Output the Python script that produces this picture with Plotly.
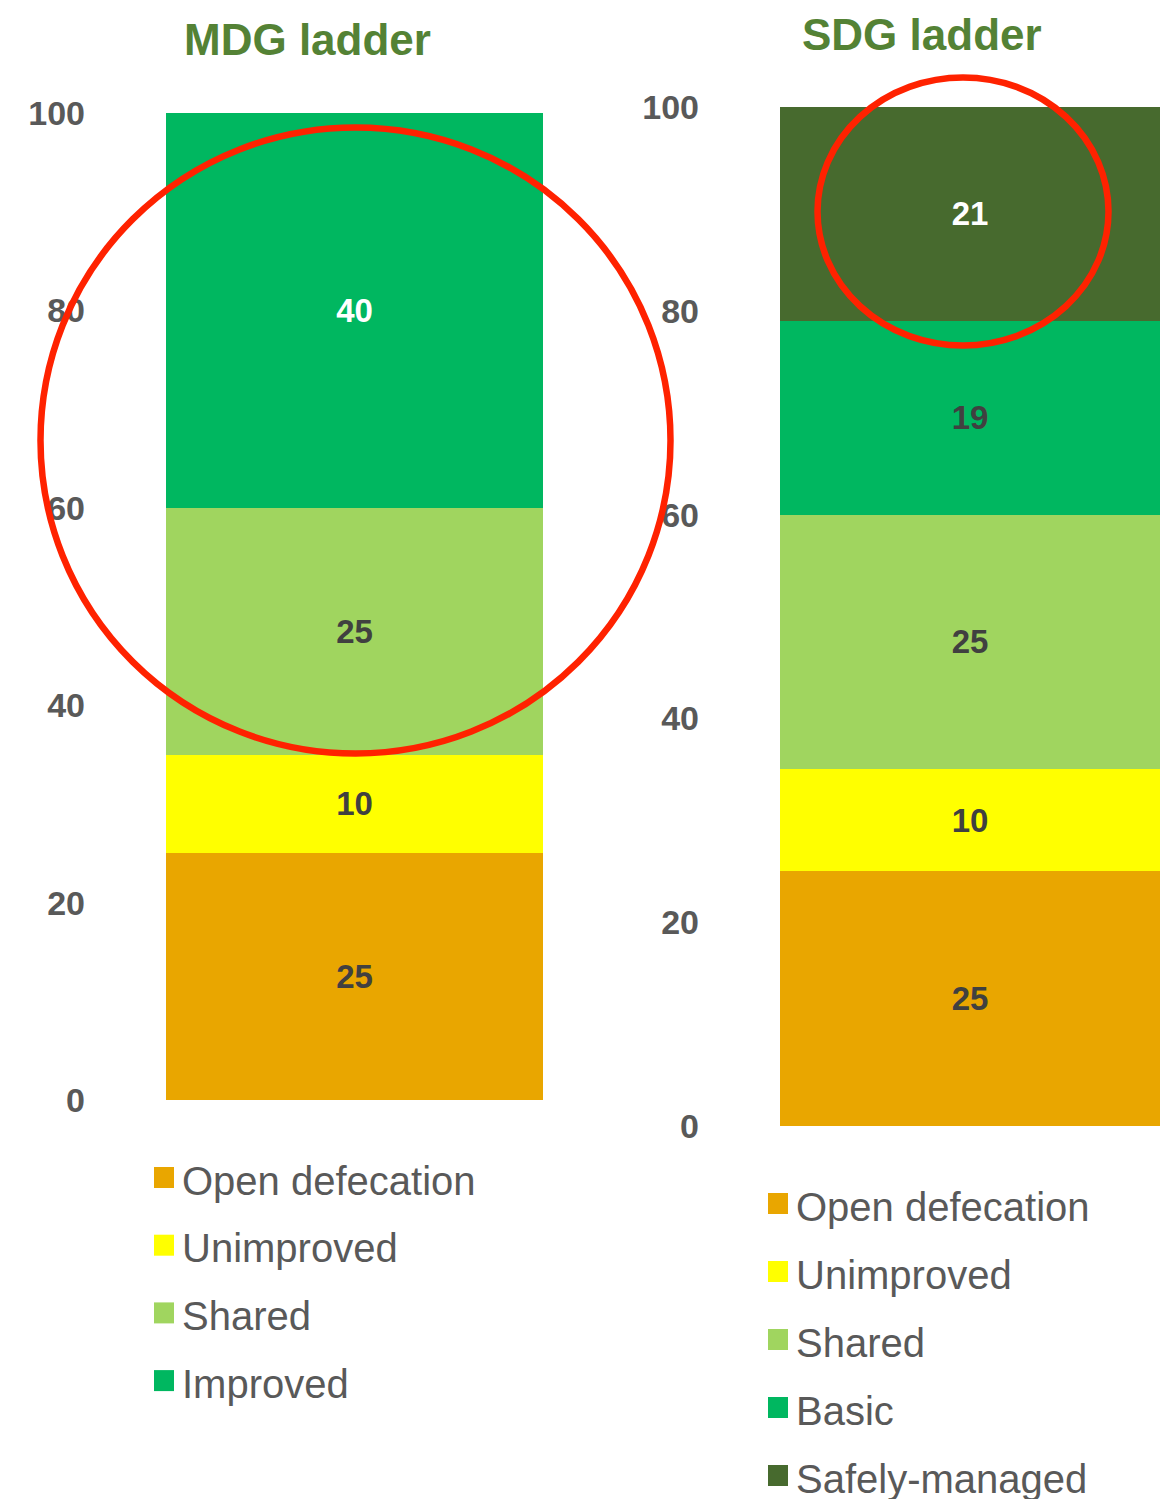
import plotly.graph_objects as go

W, H = 1160, 1499

# Sanitation ladder shares (percent), stacked bottom-up
mdg_categories = ["Open defecation", "Unimproved", "Shared", "Improved"]
mdg_values = [25, 10, 25, 40]
sdg_categories = ["Open defecation", "Unimproved", "Shared", "Basic", "Safely-managed"]
sdg_values = [25, 10, 25, 19, 21]
y_ticks = [0, 20, 40, 60, 80, 100]

colors = {
    "Open defecation": "#E9A600",
    "Unimproved": "#FFFF00",
    "Shared": "#A0D55F",
    "Improved": "#00B760",
    "Basic": "#00B760",
    "Safely-managed": "#476A2E",
}
label_colors = {
    "Open defecation": "#404040",
    "Unimproved": "#404040",
    "Shared": "#404040",
    "Improved": "#FFFFFF",
    "Basic": "#404040",
    "Safely-managed": "#FFFFFF",
}

FONT = "Liberation Sans, Arial, sans-serif"
GREY = "#595959"
TITLE_GREEN = "#548235"


def px(x):
    return x / W


def py(y):
    return 1 - y / H


fig = go.Figure()

for cats, vals, xa, ya in [
    (mdg_categories, mdg_values, "x", "y"),
    (sdg_categories, sdg_values, "x2", "y2"),
]:
    for cat, val in zip(cats, vals):
        fig.add_trace(go.Bar(
            x=[0], y=[val], width=[1],
            name=cat,
            marker=dict(color=colors[cat], line=dict(width=0)),
            text=[val], texttemplate="%{text}",
            textposition="inside", insidetextanchor="middle", textangle=0,
            textfont=dict(family=FONT, size=33, color=label_colors[cat], weight="bold"),
            xaxis=xa, yaxis=ya, showlegend=False, hoverinfo="skip",
        ))

axis_common = dict(showgrid=False, zeroline=False, showline=False, automargin=False)
yaxis_common = dict(
    axis_common, range=[0, 100], tickvals=y_ticks, ticks="",
    tickfont=dict(family=FONT, size=34, color=GREY, weight="bold"),
    ticklabelstandoff=80,
)

fig.update_layout(
    width=W, height=H,
    margin=dict(l=0, r=0, t=0, b=0, autoexpand=False),
    paper_bgcolor="white", plot_bgcolor="white",
    barmode="stack",
    xaxis=dict(axis_common, domain=[px(166), px(543)], range=[-0.5, 0.5],
               showticklabels=False, anchor="y"),
    yaxis=dict(yaxis_common, domain=[py(1100), py(113)], anchor="x"),
    xaxis2=dict(axis_common, domain=[px(780), 1.0], range=[-0.5, 0.5],
                showticklabels=False, anchor="y2"),
    yaxis2=dict(yaxis_common, domain=[py(1126), py(107)], anchor="x2"),
)

# Panel titles
for text, cx, cy in [("MDG ladder", 307, 40), ("SDG ladder", 922, 35)]:
    fig.add_annotation(
        text=text, xref="paper", yref="paper", x=px(cx), y=py(cy),
        xanchor="center", yanchor="middle", showarrow=False,
        font=dict(family=FONT, size=44, color=TITLE_GREEN, weight="bold"),
    )

# Legends: coloured square + label, one row per category
shapes = []
for cats, x0, y0, step in [
    (mdg_categories, 154, 1177.5, 67.7),
    (sdg_categories, 768, 1203.5, 68.0),
]:
    for i, cat in enumerate(cats):
        yc = y0 + i * step
        shapes.append(dict(
            type="rect", xref="paper", yref="paper",
            x0=px(x0), x1=px(x0 + 20), y0=py(yc + 10.5), y1=py(yc - 10.5),
            fillcolor=colors[cat], line=dict(width=0),
        ))
        fig.add_annotation(
            text=cat, xref="paper", yref="paper", x=px(x0 + 26), y=py(yc + 3),
            xanchor="left", yanchor="middle", showarrow=False,
            font=dict(family=FONT, size=40, color=GREY),
        )

# Red highlight rings
for cx, cy, rx, ry in [(355.5, 440.5, 315, 313), (963, 211.5, 145.5, 134)]:
    shapes.append(dict(
        type="circle", xref="paper", yref="paper", layer="above",
        x0=px(cx - rx), x1=px(cx + rx), y0=py(cy + ry), y1=py(cy - ry),
        line=dict(color="#FF2200", width=6.5), fillcolor="rgba(0,0,0,0)",
    ))

fig.update_layout(shapes=shapes)

fig.write_html("out.html")
